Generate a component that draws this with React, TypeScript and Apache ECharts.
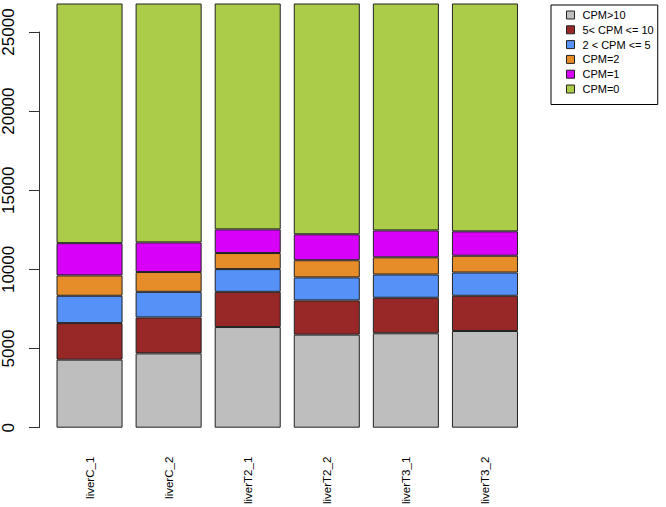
import React, { useEffect, useRef } from "react";
import * as echarts from "echarts";

const categories = ["liverC_1", "liverC_2", "liverT2_1", "liverT2_2", "liverT3_1", "liverT3_2"];
const seriesNames = ["CPM>10", "5< CPM <= 10", "2 < CPM <= 5", "CPM=2", "CPM=1", "CPM=0"];
const gt10 = [4300, 4695, 6360, 5880, 5965, 6110];
const from5to10 = [2310, 2270, 2225, 2160, 2245, 2225];
const from2to5 = [1725, 1620, 1435, 1455, 1470, 1470];
const eq2 = [1285, 1250, 1015, 1085, 1085, 1060];
const eq1 = [2040, 1870, 1495, 1640, 1700, 1540];
const eq0 = [15140, 15095, 14270, 14580, 14335, 14395];
const yTicks = [0, 5000, 10000, 15000, 20000, 25000];
const colors = ["#BEBEBE", "#982828", "#5691F8", "#E68D29", "#D800F8", "#AACC48"];

export default function App() {
  const ref = useRef<HTMLDivElement>(null);
  useEffect(() => {
    if (!ref.current) return;
    const chart = echarts.init(ref.current, null, { renderer: "svg" });
    const dataSets = [gt10, from5to10, from2to5, eq2, eq1, eq0];
    const font = "'Liberation Sans', Arial, Helvetica, sans-serif";
    chart.setOption({
      animation: false,
      textStyle: { fontFamily: font },
      grid: { left: 50, right: 141.5, top: 32, bottom: 74, containLabel: false },
      legend: {
        orient: "vertical",
        left: 551,
        top: 5,
        data: seriesNames,
        itemWidth: 8,
        itemHeight: 8,
        itemGap: 3.8,
        borderColor: "#000",
        borderWidth: 1,
        padding: [4.5, 4, 10, 15],
        icon: "rect",
        itemStyle: { borderColor: "#222", borderWidth: 1 },
        textStyle: { fontSize: 11, color: "#000", fontFamily: font, lineHeight: 11, padding: [0, 0, 0, 3] },
      },
      xAxis: {
        type: "category",
        data: categories,
        axisLine: { show: false },
        axisTick: { show: false },
        axisLabel: { rotate: 90, fontSize: 11.5, color: "#000", margin: 29, fontFamily: font, interval: 0 },
      },
      yAxis: {
        type: "value",
        min: 0,
        max: 25000,
        interval: 5000,
        offset: 11,
        splitLine: { show: false },
        axisLine: { show: true, lineStyle: { color: "#333", width: 1 } },
        axisTick: { show: true, length: 10, lineStyle: { color: "#333" } },
        axisLabel: {
          rotate: 90,
          fontSize: 17,
          color: "#000",
          margin: 22,
          fontFamily: font,
          formatter: (v: number) => (yTicks.includes(v) ? String(v) : ""),
        },
      },
      series: dataSets.map((d, i) => ({
        name: seriesNames[i],
        type: "bar",
        stack: "total",
        data: d,
        clip: false,
        barCategoryGap: "16.5%",
        itemStyle: { color: colors[i], borderColor: "#222", borderWidth: 1 },
      })),
    });
    return () => chart.dispose();
  }, []);
  return <div ref={ref} style={{ width: 666, height: 507, position: "absolute", left: 0, top: 0 }} />;
}
